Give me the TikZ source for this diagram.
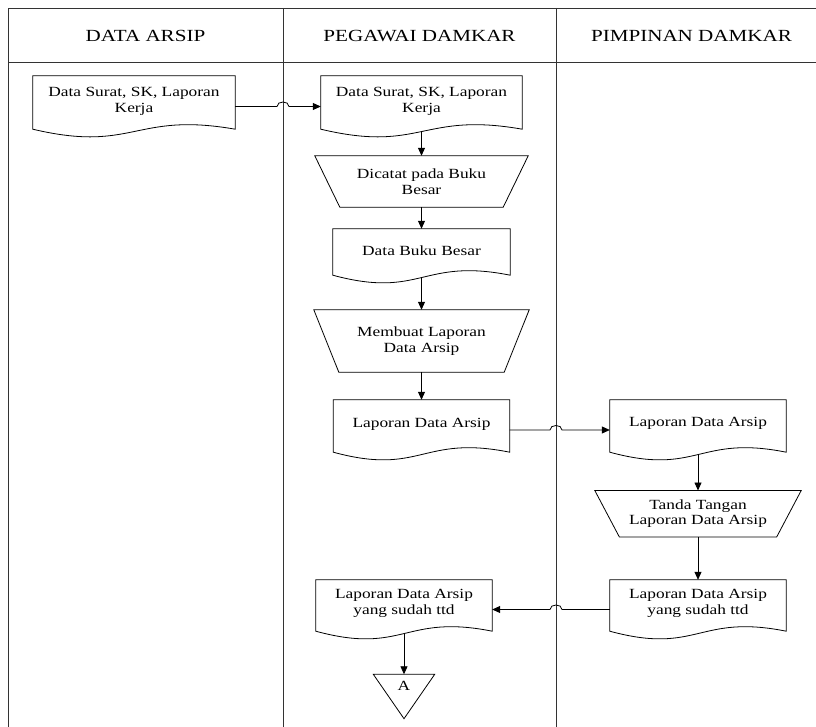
\documentclass[tikz,border=0pt]{standalone}
\usepackage{fontspec}
\setmainfont{Liberation Serif}[FakeStretch=1.24]
\usetikzlibrary{arrows.meta,calc}
\tikzset{
  shp/.style={draw=black, line width=0.8pt},
  lane/.style={draw=black!80, line width=0.9pt},
  arr/.style={draw=black, line width=0.8pt, -{Triangle[length=8pt,width=7pt]}},
  txt/.style={font=\fontsize{14}{15.5}\selectfont, align=center, inner sep=0pt},
  hdr/.style={font=\fontsize{17}{20}\selectfont, inner sep=0pt},
  box/.style 2 args={minimum width=#1, minimum height=#2, inner sep=0pt, draw=none},
}
\newcommand\docpath[1]{%
  \draw[shp] (#1.north west) -- (#1.north east) -- ([yshift=8pt]#1.south east)
    .. controls ([yshift=25.7pt]#1.south) and ([yshift=-16pt]#1.south) .. ([yshift=8pt]#1.south west) -- cycle;}
\newcommand\trappath[2]{%
  \draw[shp] (#1.north west) -- (#1.north east) -- ([xshift=-#2]#1.south east) -- ([xshift=#2]#1.south west) -- cycle;}
\newcommand\tripath[1]{%
  \draw[shp] (#1.north west) -- (#1.north east) -- (#1.south) -- cycle;}
\begin{document}
\begin{tikzpicture}[x=1pt,y=-1pt]
\useasboundingbox (0,0) rectangle (816,727);
\clip (0,0) rectangle (816,727);
% lanes
\coordinate (v1) at (283,8);
\coordinate (v2) at (556,8);
\draw[lane] (8,740) -- (8,8) -- (840,8);
\draw[lane] (8,62) -- (840,62);
\draw[lane] (v1) -- (283,740);
\draw[lane] (v2) -- (556,740);
\node[hdr] (h1) at (145.5,36) {DATA ARSIP};
\node[hdr] (h2) at (419.5,36) {PEGAWAI DAMKAR};
\node[hdr] (h3) at (691.5,36) {PIMPINAN DAMKAR};
% shapes
\node[box={202pt}{61pt}, label={[txt,yshift=5pt]center:{Data Surat, SK, Laporan\\Kerja}}] (d1) at (134,106.5) {};
\node[box={201pt}{61pt}, label={[txt,yshift=5pt]center:{Data Surat, SK, Laporan\\Kerja}}] (d2) at (421.5,106.5) {};
\node[box={213pt}{51pt}, txt] (t1) at (421.5,181.5) {Dicatat pada Buku\\Besar};
\node[box={177pt}{54pt}, label={[txt,yshift=5pt]center:{Data Buku Besar}}] (d3) at (421.5,256) {};
\node[box={215pt}{62pt}, txt] (t2) at (421.5,341) {Membuat Laporan\\Data Arsip};
\node[box={176pt}{60pt}, label={[txt,yshift=6pt]center:{Laporan Data Arsip}}] (d4) at (421.5,430) {};
\node[box={176pt}{60pt}, label={[txt,yshift=7pt]center:{Laporan Data Arsip}}] (d5) at (698,430) {};
\node[box={206pt}{46pt}, txt] (t3) at (698,513.7) {Tanda Tangan\\Laporan Data Arsip};
\node[box={176pt}{59pt}, label={[txt,yshift=6pt]center:{Laporan Data Arsip\\yang sudah ttd}}] (d6) at (698,609.5) {};
\node[box={176pt}{59pt}, label={[txt,yshift=6pt]center:{Laporan Data Arsip\\yang sudah ttd}}] (d7) at (404,609.5) {};
\node[box={61pt}{44pt}, label={[txt,yshift=11pt]center:{A}}] (tri) at (404,696.5) {};
\docpath{d1}
\docpath{d2}
\trappath{t1}{25pt}
\docpath{d3}
\trappath{t2}{25pt}
\docpath{d4}
\docpath{d5}
\trappath{t3}{24.5pt}
\docpath{d6}
\docpath{d7}
\tripath{tri}
% connectors
\draw[arr] (d1.east) -- ([xshift=-6pt]d1.east -| v1) .. controls +(0,-6) and +(0,-6) .. ([xshift=6pt]d1.east -| v1) -- (d2.west);
\draw[arr] ([yshift=5.6pt]d2.south) -- (t1.north);
\draw[arr] (t1.south) -- (d3.north);
\draw[arr] ([yshift=5.6pt]d3.south) -- (t2.north);
\draw[arr] (t2.south) -- (d4.north);
\draw[arr] (d4.east) -- ([xshift=-6pt]d4.east -| v2) .. controls +(0,-6) and +(0,-6) .. ([xshift=6pt]d4.east -| v2) -- (d5.west);
\draw[arr] ([yshift=5.6pt]d5.south) -- (t3.north);
\draw[arr] (t3.south) -- (d6.north);
\draw[arr] (d6.west) -- ([xshift=6pt]d6.west -| v2) .. controls +(0,-6) and +(0,-6) .. ([xshift=-6pt]d6.west -| v2) -- (d7.east);
\draw[arr] ([yshift=5.6pt]d7.south) -- (tri.north);
\end{tikzpicture}
\end{document}
